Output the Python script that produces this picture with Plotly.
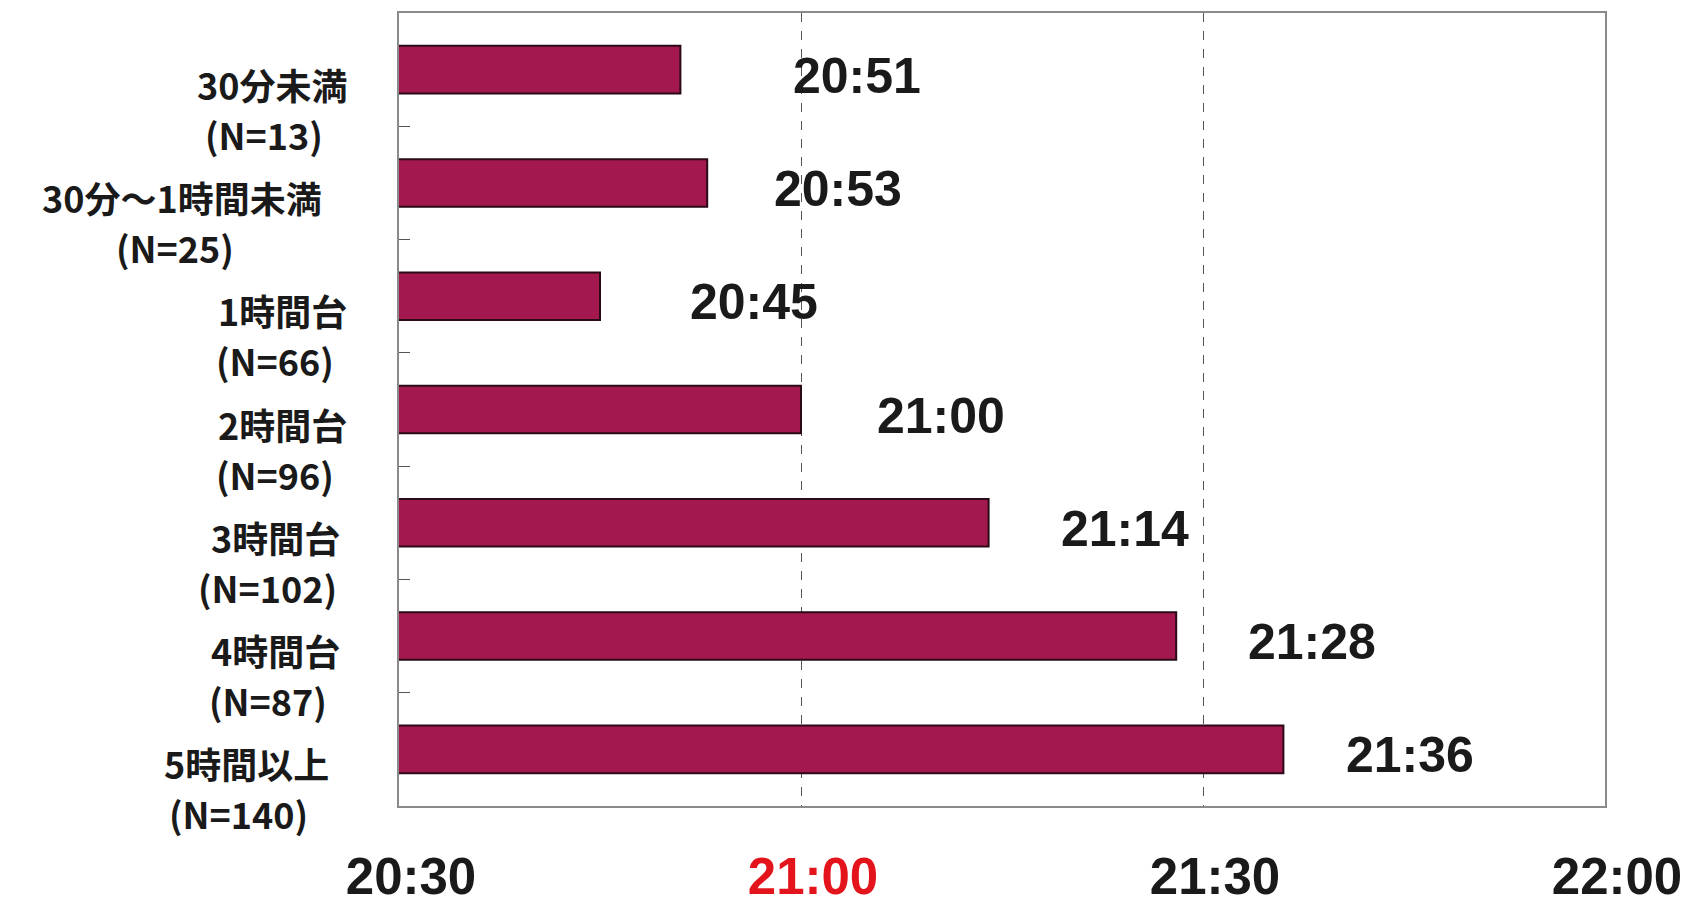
import plotly.graph_objects as go

# ---- data ----
categories = ["30分未満", "30分～1時間未満", "1時間台", "2時間台", "3時間台", "4時間台", "5時間以上"]
sample_sizes = ["(N=13)", "(N=25)", "(N=66)", "(N=96)", "(N=102)", "(N=87)", "(N=140)"]
avg_times = ["20:51", "20:53", "20:45", "21:00", "21:14", "21:28", "21:36"]
tick_times = ["20:30", "21:00", "21:30", "22:00"]
highlight_tick = "21:00"


def to_min(t):
    h, m = t.split(":")
    return int(h) * 60 + int(m)


values = [to_min(t) for t in avg_times]
tick_vals = [to_min(t) for t in tick_times]
tick_text = [
    (f"<span style='color:#e3141c'><b>{t}</b></span>" if t == highlight_tick else f"<b>{t}</b>")
    for t in tick_times
]

# ---- styles ----
bar_color = "#A3194F"
bar_line = "#2a0a14"
CAT_FS = 36
cat_label_font = dict(family="Noto Sans CJK JP", size=CAT_FS, color="#1a1a1a")
value_font = dict(family="Liberation Sans, Arial, sans-serif", size=50, color="#1a1a1a")
tick_font = dict(family="Liberation Sans, Arial, sans-serif", size=51, color="#1a1a1a")
label_xshift = [-50, -75, -50, -50, -57, -57, -68]
value_xshift = [111, 65, 88, 74, 70, 70, 61]


def est_width(s, fs):
    # rough rendered width of a bold Noto Sans CJK string (for centring line 2 under line 1)
    w = 0.0
    for ch in s:
        w += 1.0 if ord(ch) > 0x2E80 else 0.575
    return w * fs


fig = go.Figure()
fig.add_trace(go.Bar(
    y=categories,
    x=values,
    orientation="h",
    marker=dict(color=bar_color, line=dict(color=bar_line, width=2)),
    width=0.42,
    hoverinfo="skip",
))

annotations = []
for i, cat in enumerate(categories):
    annotations.append(dict(
        xref="paper", yref="y", x=0, y=cat,
        text=f"<b>{cat}</b>",
        showarrow=False, xanchor="right", yanchor="middle",
        xshift=label_xshift[i], yshift=-14, font=cat_label_font,
    ))
    annotations.append(dict(
        xref="paper", yref="y", x=0, y=cat,
        text=f"<b>{sample_sizes[i]}</b>",
        showarrow=False, xanchor="center", yanchor="middle",
        xshift=label_xshift[i] - est_width(cat, CAT_FS) / 2 - 10, yshift=-64,
        font=cat_label_font,
    ))
    annotations.append(dict(
        xref="x", yref="y", x=values[i], y=cat,
        text=f"<b>{avg_times[i]}</b>",
        showarrow=False, xanchor="left", yanchor="middle",
        xshift=value_xshift[i], yshift=-6, font=value_font,
    ))

fig.update_layout(
    width=1685, height=907,
    margin=dict(l=399, r=80, t=13, b=101, autoexpand=False),
    paper_bgcolor="white", plot_bgcolor="white",
    showlegend=False,
    annotations=annotations,
    xaxis=dict(
        range=[tick_vals[0], tick_vals[-1]],
        tickmode="array", tickvals=tick_vals, ticktext=tick_text,
        tickfont=tick_font,
        showgrid=True, gridcolor="#555555", gridwidth=1, griddash="dash",
        showline=True, linecolor="#8a8a8a", linewidth=1.5, mirror=True,
        ticks="", ticklabelstandoff=25, ticklabelshift=12,
        ticklabeloverflow="allow",
        automargin=False,
        zeroline=False, fixedrange=True,
    ),
    yaxis=dict(
        categoryorder="array", categoryarray=categories,
        range=[len(categories) - 0.5, -0.5],
        showticklabels=False,
        ticks="inside", tickson="boundaries", ticklen=11, tickcolor="#555555",
        showgrid=False,
        showline=True, linecolor="#8a8a8a", linewidth=1.5, mirror=True,
        automargin=False,
        fixedrange=True,
    ),
)

fig.write_html("out.html")
